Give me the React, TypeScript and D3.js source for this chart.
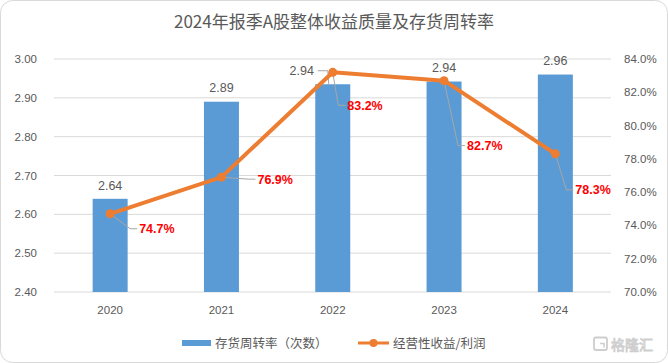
import React from 'react';
import * as d3 from 'd3';

const years = ['2020', '2021', '2022', '2023', '2024'];
const turnover = [2.64, 2.89, 2.935, 2.942, 2.96];
const turnoverLabels = ['2.64', '2.89', '2.94', '2.94', '2.96'];
const ratio = [74.7, 76.9, 83.2, 82.7, 78.3];
const leftTicks = [2.4, 2.5, 2.6, 2.7, 2.8, 2.9, 3.0];
const rightTicks = [70, 72, 74, 76, 78, 80, 82, 84];

const W = 668, H = 363;
const gray = '#595959';
const grid = '#D9D9D9';
const blue = '#5B9BD5';
const orange = '#ED7D31';
const numFont = '"Liberation Sans", Arial, sans-serif';
const cjkFont = '"Noto Sans CJK SC", sans-serif';

// label offsets for the percent labels (dx, dy from the point) and bar labels
const pctOffset = [[29, 15], [36, 2], [14.5, 33], [23, 65], [20, 36]];
const barLabelOffset = [[0, -9], [0, -10], [-31, -9.5], [0, -9.5], [0, -9.5]];

export default function App() {
  const x = d3.scaleBand().domain(years).range([54.5, 611]).padding(0);
  const yL = d3.scaleLinear().domain([2.4, 3.0]).range([292, 59]);
  const yR = d3.scaleLinear().domain([70, 84]).range([292, 59]);
  const cx = (i: number) => (x(years[i]) as number) + x.bandwidth() / 2;
  const barW = 35;

  const line = d3.line<number>()
    .x((d, i) => cx(i))
    .y((d) => yR(d));

  return (
    <div style={{ position: 'absolute', left: 0, top: 0 }}>
      <svg width={W} height={H} style={{ display: 'block' }}>
        <rect x={0.5} y={0.5} width={W - 1} height={H - 1} rx={12} fill="#fff" stroke={grid} strokeWidth={1} />
        <text x={334} y={28} textAnchor="middle" fontSize={17} fill={gray} fontFamily={cjkFont}>
          2024年报季A股整体收益质量及存货周转率
        </text>

        {leftTicks.map((t) => (
          <g key={'l' + t}>
            <line x1={54} x2={611} y1={yL(t)} y2={yL(t)} stroke={grid} strokeWidth={1} />
            <text x={37} y={yL(t) + 4} textAnchor="end" fontSize={11.5} fill={gray} fontFamily={numFont}>
              {t.toFixed(2)}
            </text>
          </g>
        ))}
        {rightTicks.map((t) => (
          <text key={'r' + t} x={624} y={yR(t) + 4} fontSize={11.5} fill={gray} fontFamily={numFont}>
            {t.toFixed(1) + '%'}
          </text>
        ))}

        {turnover.map((v, i) => (
          <rect key={'b' + i} x={cx(i) - barW / 2} y={yL(v)} width={barW} height={292 - yL(v)} fill={blue} />
        ))}

        {years.map((yr, i) => (
          <text key={'x' + yr} x={cx(i)} y={314} textAnchor="middle" fontSize={11.5} fill={gray} fontFamily={numFont}>
            {yr}
          </text>
        ))}

        {/* bar labels */}
        {turnover.map((v, i) => {
          const lx = cx(i) + barLabelOffset[i][0];
          const ly = yL(v) + barLabelOffset[i][1];
          return (
            <g key={'bl' + i}>
              {i === 2 && (
                <polyline
                  points={`${lx + 16},${ly - 4} ${lx + 26},${ly - 4} ${cx(i) - 4},${yL(v)}`}
                  fill="none" stroke="#A6A6A6" strokeWidth={1}
                />
              )}
              <text x={lx} y={ly} textAnchor="middle" fontSize={12.5} fill={gray} fontFamily={numFont}>
                {turnoverLabels[i]}
              </text>
            </g>
          );
        })}

        <path d={line(ratio) || ''} fill="none" stroke={orange} strokeWidth={4} strokeLinejoin="round" />

        {/* leader lines + percent labels */}
        {ratio.map((v, i) => {
          const px = cx(i), py = yR(v);
          const lx = px + pctOffset[i][0];
          const ly = py + pctOffset[i][1];
          return (
            <g key={'p' + i}>
              <polyline
                points={`${px},${py} ${lx - 9},${ly} ${lx - 2},${ly}`}
                fill="none" stroke="#A6A6A6" strokeWidth={1}
              />
              <text x={lx} y={ly + 4.5} fontSize={12.5} fontWeight="bold" fill="#FF0000" fontFamily={numFont}>
                {v.toFixed(1) + '%'}
              </text>
            </g>
          );
        })}

        {ratio.map((v, i) => (
          <circle key={'c' + i} cx={cx(i)} cy={yR(v)} r={4.5} fill={orange} />
        ))}

        {/* legend */}
        <rect x={182} y={340} width={29} height={6} fill={blue} />
        <text x={215} y={347.5} fontSize={12.5} fill={gray} fontFamily={cjkFont}>存货周转率（次数）</text>
        <line x1={358} x2={389} y1={343} y2={343} stroke={orange} strokeWidth={3} />
        <circle cx={373.5} cy={343} r={4} fill={orange} />
        <text x={393} y={347.5} fontSize={12.5} fill={gray} fontFamily={cjkFont}>经营性收益/利润</text>

        {/* watermark */}
        <g opacity={0.5}>
          <rect x={594} y={337.5} width={13} height={12.5} rx={2} fill="none" stroke="#9E9E9E" strokeWidth={1.8} />
          <path d="M600,343.5 h4 v4" fill="none" stroke="#9E9E9E" strokeWidth={1.5} />
          <text x={611} y={349.5} fontSize={14} fill="#fff" stroke="#9E9E9E" strokeWidth={0.9} fontFamily={cjkFont}>格隆汇</text>
        </g>
      </svg>
    </div>
  );
}
